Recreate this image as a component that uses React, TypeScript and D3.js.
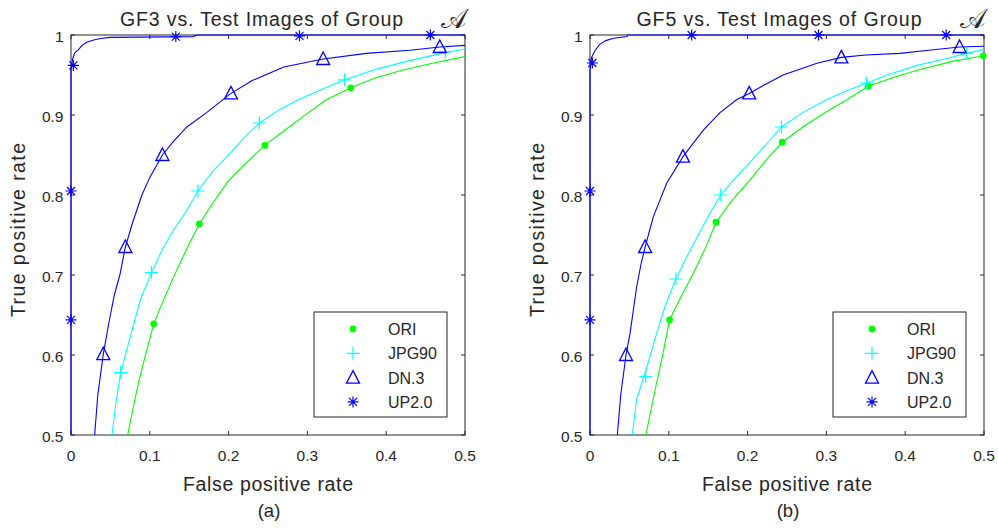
import React from "react";
import * as d3 from "d3";

type Pt = [number, number];

const W = 998;
const H = 528;
const TOP = 35;
const BOTTOM = 435;

const xTicks = [0, 0.1, 0.2, 0.3, 0.4, 0.5];
const yTicks = [0.5, 0.6, 0.7, 0.8, 0.9, 1];
const xTickLabels = ["0", "0.1", "0.2", "0.3", "0.4", "0.5"];
const yTickLabels = ["0.5", "0.6", "0.7", "0.8", "0.9", "1"];

const seriesNames = ["ORI", "JPG90", "DN.3", "UP2.0"];
const seriesColors = ["#00ff00", "#00ffff", "#0000ff", "#0000ff"];
const seriesMarkers = ["dot", "plus", "tri", "star"];

// panel (a): GF3
const oriA: Pt[] = [
  [0.072, 0.5], [0.078, 0.53], [0.0855, 0.565], [0.094, 0.598], [0.105, 0.639],
  [0.117, 0.668], [0.13, 0.697], [0.147, 0.733], [0.163, 0.764], [0.18, 0.79],
  [0.2, 0.818], [0.22, 0.838], [0.246, 0.862], [0.27, 0.88], [0.3, 0.902],
  [0.324, 0.919], [0.355, 0.934], [0.385, 0.946], [0.42, 0.956], [0.46, 0.965],
  [0.5, 0.973],
];
const oriAMarks: Pt[] = [[0.105, 0.639], [0.163, 0.764], [0.246, 0.862], [0.355, 0.934]];

const jpgA: Pt[] = [
  [0.052, 0.5], [0.057, 0.54], [0.063, 0.578], [0.071, 0.607], [0.08, 0.64],
  [0.088, 0.669], [0.102, 0.703], [0.115, 0.73], [0.13, 0.756], [0.147, 0.781],
  [0.161, 0.805], [0.18, 0.83], [0.198, 0.848], [0.22, 0.872], [0.239, 0.89],
  [0.265, 0.907], [0.2885, 0.919], [0.318, 0.932], [0.347, 0.944], [0.39, 0.958],
  [0.43, 0.968], [0.475, 0.978], [0.5, 0.9825],
];
const jpgAMarks: Pt[] = [[0.063, 0.578], [0.102, 0.703], [0.161, 0.805], [0.239, 0.89], [0.347, 0.944], [0.475, 0.979]];

const dnA: Pt[] = [
  [0.03, 0.5], [0.034, 0.55], [0.041, 0.601], [0.048, 0.64], [0.055, 0.675],
  [0.062, 0.7], [0.069, 0.735], [0.078, 0.765], [0.09, 0.8], [0.1, 0.822],
  [0.116, 0.85], [0.13, 0.867], [0.147, 0.885], [0.172, 0.903], [0.203, 0.927],
  [0.23, 0.943], [0.27, 0.96], [0.32, 0.97], [0.375, 0.977], [0.43, 0.981],
  [0.468, 0.985], [0.5, 0.987],
];
const dnAMarks: Pt[] = [[0.041, 0.601], [0.069, 0.735], [0.116, 0.85], [0.203, 0.927], [0.32, 0.97], [0.468, 0.985]];

const upA: Pt[] = [
  [0, 0.5], [0, 0.955], [0.002, 0.97], [0.005, 0.978], [0.009, 0.981],
  [0.014, 0.987], [0.02, 0.991], [0.03, 0.994], [0.04, 0.996], [0.05, 0.997],
  [0.155, 0.998], [0.16, 1], [0.5, 1],
];
const upAMarks: Pt[] = [[0, 0.644], [0, 0.805], [0.003, 0.962], [0.133, 0.998], [0.29, 0.999], [0.456, 1]];

// panel (b): GF5
const oriB: Pt[] = [
  [0.071, 0.5], [0.077, 0.53], [0.0845, 0.565], [0.0927, 0.602], [0.101, 0.644],
  [0.115, 0.672], [0.131, 0.702], [0.148, 0.737], [0.16, 0.766], [0.18, 0.793],
  [0.203, 0.819], [0.222, 0.842], [0.244, 0.866], [0.27, 0.885], [0.3, 0.904],
  [0.326, 0.919], [0.353, 0.936], [0.385, 0.947], [0.415, 0.956], [0.46, 0.967],
  [0.5, 0.974],
];
const oriBMarks: Pt[] = [[0.101, 0.644], [0.16, 0.766], [0.244, 0.866], [0.353, 0.936], [0.499, 0.974]];

const jpgB: Pt[] = [
  [0.0537, 0.5], [0.059, 0.544], [0.0707, 0.58], [0.0846, 0.627], [0.095, 0.66],
  [0.109, 0.695], [0.124, 0.725], [0.14, 0.755], [0.152, 0.777], [0.166, 0.8],
  [0.185, 0.822], [0.205, 0.843], [0.225, 0.865], [0.243, 0.885], [0.27, 0.903],
  [0.3, 0.919], [0.325, 0.93], [0.351, 0.94], [0.38, 0.951], [0.415, 0.962],
  [0.45, 0.97], [0.478, 0.977], [0.5, 0.982],
];
const jpgBMarks: Pt[] = [[0.0707, 0.573], [0.109, 0.695], [0.166, 0.8], [0.243, 0.885], [0.351, 0.94], [0.478, 0.977]];

const dnB: Pt[] = [
  [0.0347, 0.5], [0.039, 0.55], [0.0457, 0.6], [0.0508, 0.627], [0.0592, 0.685],
  [0.065, 0.715], [0.07, 0.735], [0.0804, 0.773], [0.0973, 0.8146], [0.118, 0.848],
  [0.1438, 0.881], [0.165, 0.903], [0.186, 0.919], [0.202, 0.927], [0.22, 0.937],
  [0.245, 0.95], [0.288, 0.9646], [0.319, 0.972], [0.35, 0.975], [0.393, 0.977],
  [0.43, 0.981], [0.469, 0.985], [0.5, 0.986],
];
const dnBMarks: Pt[] = [[0.0457, 0.6], [0.07, 0.735], [0.118, 0.848], [0.202, 0.927], [0.319, 0.972], [0.469, 0.985]];

const upB: Pt[] = [
  [0, 0.5], [0, 0.955], [0.002, 0.972], [0.006, 0.98], [0.012, 0.988],
  [0.02, 0.993], [0.03, 0.996], [0.047, 0.998], [0.048, 1], [0.5, 1],
];
const upBMarks: Pt[] = [[0, 0.644], [0, 0.805], [0.003, 0.965], [0.129, 1], [0.29, 1], [0.452, 1]];

const FONT = "'Liberation Sans', Arial, Helvetica, sans-serif";
const INK = "#262626";

const Marker = ({ kind, cx, cy, color }: { kind: string; cx: number; cy: number; color: string }) => {
  if (kind === "dot") return <circle cx={cx} cy={cy} r={3.4} fill={color} />;
  if (kind === "plus")
    return (
      <path d={`M${cx - 6.5},${cy}H${cx + 6.5}M${cx},${cy - 6.5}V${cy + 6.5}`} stroke={color} strokeWidth={1.2} />
    );
  if (kind === "tri")
    return (
      <path
        d={`M${cx},${cy - 7}L${cx + 6.5},${cy + 5.5}L${cx - 6.5},${cy + 5.5}Z`}
        stroke={color}
        strokeWidth={1.3}
        fill="none"
      />
    );
  const s = 5.5;
  const k = 4;
  return (
    <path
      d={`M${cx - s},${cy}H${cx + s}M${cx},${cy - s}V${cy + s}M${cx - k},${cy - k}L${cx + k},${cy + k}M${cx - k},${cy + k}L${cx + k},${cy - k}`}
      stroke={color}
      strokeWidth={1.2}
    />
  );
};

type PanelProps = {
  left: number;
  right: number;
  title: string;
  titleX: number;
  titleWidth: number;
  tag: string;
  curves: Pt[][];
  marks: Pt[][];
};

const Panel = ({ left, right, title, titleX, titleWidth, tag, curves, marks }: PanelProps) => {
  const x = d3.scaleLinear().domain([0, 0.5]).range([left, right]);
  const y = d3.scaleLinear().domain([0.5, 1]).range([BOTTOM, TOP]);
  const line = d3
    .line<Pt>()
    .x((d) => x(d[0]))
    .y((d) => y(d[1]));
  const cx = (left + right) / 2;
  const legX = left + 243;
  const legW = 133;

  return (
    <g fontFamily={FONT}>
      {/* axes box + ticks */}
      <rect x={left} y={TOP} width={right - left} height={BOTTOM - TOP} fill="white" stroke={INK} strokeWidth={1} />
      {xTicks.map((t, i) => (
        <g key={"x" + t}>
          <line x1={x(t)} x2={x(t)} y1={BOTTOM} y2={BOTTOM - 4} stroke={INK} />
          <line x1={x(t)} x2={x(t)} y1={TOP} y2={TOP + 4} stroke={INK} />
          <text x={x(t)} y={461} textAnchor="middle" fontSize={15.5} fill={INK}>
            {xTickLabels[i]}
          </text>
        </g>
      ))}
      {yTicks.map((t, i) => (
        <g key={"y" + t}>
          <line x1={left} x2={left + 4} y1={y(t)} y2={y(t)} stroke={INK} />
          <line x1={right} x2={right - 4} y1={y(t)} y2={y(t)} stroke={INK} />
          <text x={left - 7.5} y={y(t) + 6.5} textAnchor="end" fontSize={15.5} fill={INK}>
            {yTickLabels[i]}
          </text>
        </g>
      ))}

      {/* curves */}
      {curves.map((c, i) => (
        <path key={"c" + i} d={line(c) || ""} fill="none" stroke={seriesColors[i]} strokeWidth={1.1} />
      ))}
      {marks.map((m, i) =>
        m.map((p, j) => (
          <Marker key={"m" + i + "-" + j} kind={seriesMarkers[i]} cx={x(p[0])} cy={y(p[1])} color={seriesColors[i]} />
        ))
      )}

      {/* legend */}
      <rect x={legX} y={312} width={legW} height={105} fill="white" stroke={INK} strokeWidth={1} />
      {seriesNames.map((n, i) => (
        <g key={n}>
          <Marker kind={seriesMarkers[i]} cx={legX + 39} cy={329 + i * 24.3} color={seriesColors[i]} />
          <text x={legX + 74} y={329 + i * 24.3 + 6} fontSize={16} fill={INK}>
            {n}
          </text>
        </g>
      ))}

      {/* labels */}
      <text x={titleX} y={26} textAnchor="middle" fontSize={19.5} fill={INK} textLength={titleWidth} lengthAdjust="spacing">
        {title}
      </text>
      <text x={right - 11.5} y={28} textAnchor="middle" fontSize={27} fontFamily="'DejaVu Sans', serif" fill={INK}>
        𝒜
      </text>
      <text x={cx} y={491} textAnchor="middle" fontSize={19.5} fill={INK} textLength={170} lengthAdjust="spacing">
        False positive rate
      </text>
      <text
        transform={`translate(${left - 46},230) rotate(-90)`}
        textAnchor="middle"
        fontSize={19.5}
        fill={INK}
        textLength={174}
        lengthAdjust="spacing"
      >
        True positive rate
      </text>
      <text x={cx + 1} y={517} textAnchor="middle" fontSize={18.5} fill={INK}>
        {tag}
      </text>
    </g>
  );
};

export default function App() {
  return (
    <svg width={W} height={H} style={{ position: "absolute", left: 0, top: 0, background: "white" }}>
      <rect width={W} height={H} fill="white" />
      <Panel
        left={71}
        right={465}
        title="GF3 vs. Test Images of Group"
        titleX={261.5}
        titleWidth={283}
        tag="(a)"
        curves={[oriA, jpgA, dnA, upA]}
        marks={[oriAMarks, jpgAMarks, dnAMarks, upAMarks]}
      />
      <Panel
        left={590}
        right={984}
        title="GF5 vs. Test Images of Group"
        titleX={779}
        titleWidth={285}
        tag="(b)"
        curves={[oriB, jpgB, dnB, upB]}
        marks={[oriBMarks, jpgBMarks, dnBMarks, upBMarks]}
      />
    </svg>
  );
}
